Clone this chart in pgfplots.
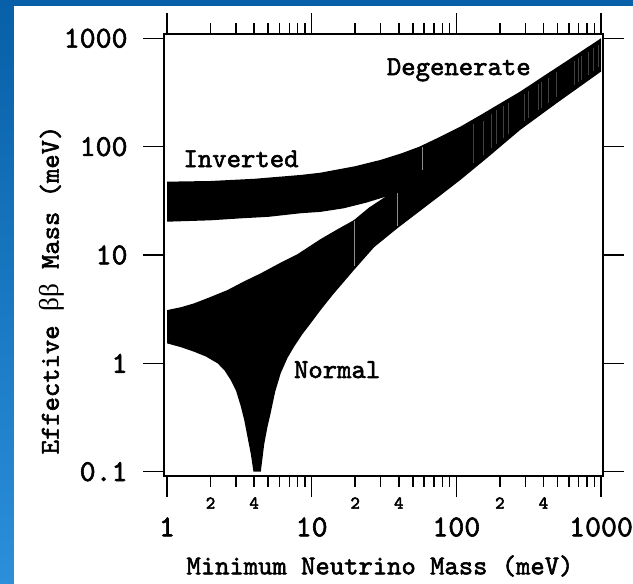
\documentclass[border=0pt]{standalone}
\usepackage{pgfplots}
\pgfplotsset{compat=1.18}
\usepackage{fontspec}
\newfontfamily\seriffont{Liberation Serif}
\newfontfamily\cour{lmmono10-regular}[Extension=.otf, FakeBold=2]
\newfontfamily\courb{lmmono10-regular}[Extension=.otf, FakeBold=3]
\definecolor{bgtop}{HTML}{0760A8}
\definecolor{bgbot}{HTML}{2B8FDA}
\newcommand{\lab}[1]{\fontsize{#1}{#1}\selectfont\cour}
\newcommand{\labb}[1]{\fontsize{#1}{#1}\selectfont\courb}
\begin{document}
\begin{tikzpicture}
\useasboundingbox (0,0) rectangle (633bp,584bp);
\fill[top color=bgtop, bottom color=bgbot] (0,0) rectangle (633bp,584bp);
\fill[white] (14bp,0) rectangle (633bp,578bp);
\begin{axis}[
  at={(164bp,108bp)}, anchor=south west, scale only axis,
  width=439bp, height=442bp,
  xmode=log, ymode=log,
  xmin=0.9534, xmax=1032.3, ymin=0.0913, ymax=1095.8,
  xtick={1,10,100,1000}, xticklabels={1,10,100,1000},
  ytick={0.1,1,10,100,1000}, yticklabels={0.1,1,10,100,1000},
  yminorticks=false,
  tick align=outside,
  major tick length=21bp, minor tick length=11bp,
  axis line style={line width=1.5bp},
  every tick/.append style={black, line width=1.5bp},
  axis on top=true,
  tick label style={font=\lab{30.5}},
  xticklabel shift=17bp,
  yticklabel shift=12bp,
  extra x ticks={2,4,20,40,200,400},
  extra x tick labels={2,4,2,4,2,4},
  extra x tick style={major tick length=11bp, xticklabel shift=7bp,
     tick label style={font=\labb{18}}},
  xlabel={Minimum Neutrino Mass (meV)},
  ylabel={Effective {\seriffont ββ} Mass (meV)},
  every axis x label/.style={at={(axis description cs:0.492,-0.2036)}, anchor=center,
     font=\lab{27.4}},
  every axis y label/.style={at={(axis description cs:-0.2551,0.4208)}, rotate=90, anchor=center,
     font=\lab{27.4}},
]
% inverted + degenerate band
\addplot[fill=black, draw=none] coordinates {
 (1,47.5) (2,48.2) (4,50.5) (8.4,54.8) (11.5,57.5) (20,66) (29.9,75.4) (42,87)
 (55.6,100) (77.6,123.7) (106.6,153) (150,199) (200,250) (276,322) (400,447)
 (600,637) (1000,1000) (1000,493) (500,255) (276,142.6) (160,77) (106.6,49.3)
 (77.6,35.5) (55,25) (39,17.6) (32.4,34.5) (24,30.5) (16.7,27) (11.5,25)
 (8.4,24.3) (5,22.5) (3.24,21.8) (2,20.9) (1,20.3)
} -- cycle;
% normal band
\addplot[fill=black, draw=none] coordinates {
 (1,3.1) (1.25,3.3) (1.54,3.58) (2,4.1) (2.62,4.75) (3.4,5.7) (4.45,6.78) (6,8.4)
 (8,10.2) (11.5,14) (15,17.2) (19.6,21) (25,27.5) (32.4,34.5) (39,30) (39,17.6)
 (27,11.8) (19.6,7.27) (14,4.3) (11.5,3.09) (9.84,2.34) (8.6,1.85) (7.55,1.42)
 (6.8,1.12) (6.11,0.81) (5.6,0.55) (5.2,0.345) (4.95,0.26) (4.7,0.18) (4.45,0.1)
 (3.96,0.1) (3.8,0.145) (3.6,0.21) (3.42,0.30) (3.24,0.40) (3.0,0.56) (2.76,0.70)
 (2.5,0.86) (2.24,1.0) (1.85,1.16) (1.54,1.28) (1.25,1.41) (1,1.53)
} -- cycle;
% light scan artefacts
\addplot[black!45, line width=0.6bp, unbounded coords=jump] coordinates {
 (19.7,7.9) (19.7,20.5) (19.7,nan)
 (38.9,18.5) (38.9,37) (38.9,nan)
 (58.5,61) (58.5,100)
};
% dark stripes in the degenerate region
\addplot[black!75, line width=0.8bp, unbounded coords=jump] coordinates {
 (132,71) (132,162) (132,nan)
 (153,84) (153,171) (153,nan)
 (174,97) (174,202) (174,nan)
 (188,105) (188,216) (188,nan)
 (210,120) (210,235) (210,nan)
 (228,131) (228,251) (228,nan)
 (294,174) (294,309) (294,nan)
 (313,184) (313,325) (313,nan)
 (367,216) (367,376) (367,nan)
 (385,227) (385,393) (385,nan)
 (430,253) (430,434) (430,nan)
 (489,286) (489,485) (489,nan)
 (651,370) (651,622) (651,nan)
 (693,393) (693,656) (693,nan)
 (727,412) (727,684) (727,nan)
 (813,460) (813,755) (813,nan)
 (881,499) (881,809) (881,nan)
 (953,540) (953,868)
};
\node[anchor=base, font=\lab{27.5}] at (axis cs:3.25,64.8) {Inverted};
\node[anchor=base, font=\lab{27.5}] at (axis cs:104,458) {Degenerate};
\node[anchor=base, font=\lab{27.5}] at (axis cs:15.0,0.733) {Normal};
\end{axis}
\end{tikzpicture}
\end{document}
